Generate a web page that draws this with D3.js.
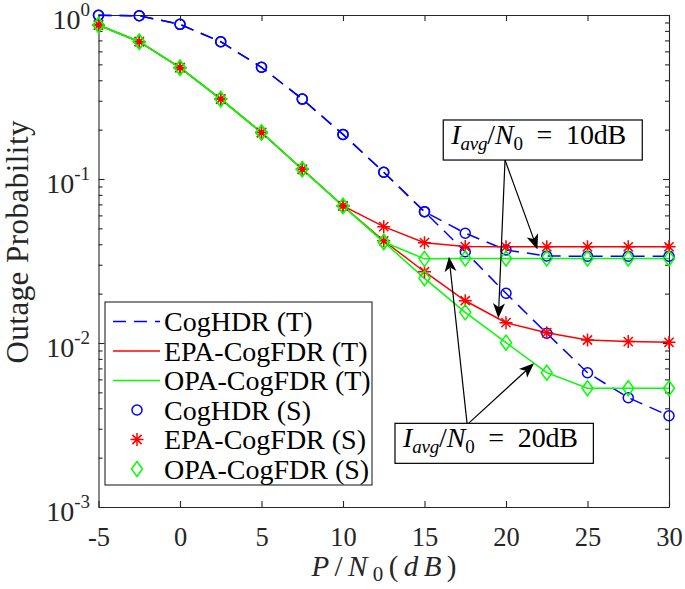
<!DOCTYPE html>
<html><head><meta charset="utf-8">
<script src="https://cdn.jsdelivr.net/npm/d3@7"></script>
<style>
body{margin:0;background:#fff;}
svg{display:block;font-family:"Liberation Serif","Times New Roman",serif;}
</style></head>
<body><svg id="c" width="685" height="589"></svg>
<script>
// ---- data ----
const snr = [-5, -2.5, 0, 2.5, 5, 7.5, 10, 12.5, 15, 17.5, 20, 22.5, 25, 27.5, 30];
const cogHDR_10 = [0.995, 0.99, 0.877, 0.687, 0.48, 0.307, 0.187, 0.110, 0.0632, 0.0467, 0.0369, 0.0339, 0.0338, 0.0338, 0.0338];
const cogHDR_20 = [0.995, 0.99, 0.877, 0.687, 0.48, 0.307, 0.187, 0.110, 0.0632, 0.0360, 0.0201, 0.01146, 0.00659, 0.00464, 0.0036];
const epa_10 = [0.869, 0.687, 0.477, 0.307, 0.192, 0.1146, 0.0685, 0.0512, 0.0409, 0.0387, 0.0386, 0.0386, 0.0386, 0.0386, 0.0386];
const epa_20 = [0.869, 0.687, 0.477, 0.307, 0.192, 0.1146, 0.0685, 0.0420, 0.0272, 0.0181, 0.0133, 0.01156, 0.01043, 0.0102, 0.0101];
const opa_10 = [0.869, 0.687, 0.477, 0.307, 0.192, 0.1146, 0.0685, 0.0413, 0.0326, 0.0328, 0.0328, 0.0328, 0.0328, 0.0328, 0.0328];
const opa_20 = [0.869, 0.687, 0.477, 0.307, 0.192, 0.1146, 0.0685, 0.0413, 0.0248, 0.01538, 0.01005, 0.00659, 0.0053, 0.0053, 0.0053];
const xTicks = [-5, 0, 5, 10, 15, 20, 25, 30];
const yTicks = [1e-3, 1e-2, 1e-1, 1];
const yExp = ["-3", "-2", "-1", "0"];
const legendLabels = ["CogHDR (T)", "EPA-CogFDR (T)", "OPA-CogFDR (T)", "CogHDR (S)", "EPA-CogFDR (S)", "OPA-CogFDR (S)"];
// annotation boxes/arrows in data coordinates
const boxes = [
  {label: "10dB", x0: 16.15, x1: 28.36, yTop: 0.229, yBot: 0.1305},
  {label: "20dB", x0: 13.19, x1: 25.36, yTop: 0.003237, yBot: 0.001846}
];
const arrows = [
  {from: [19.94, 0.1305], to: [21.93, 0.0372]},
  {from: [19.94, 0.1305], to: [19.53, 0.01415]},
  {from: [17.61, 0.003237], to: [16.50, 0.0336]},
  {from: [17.70, 0.003237], to: [21.72, 0.00752]}
];

// ---- layout ----
const L = 98.5, R = 669, T = 15, B = 507;
const x = d3.scaleLinear([-5, 30], [L, R]);
const y = d3.scaleLog([1e-3, 1], [B, T]);
const svg = d3.select("#c");
const axisColor = "#262626";
const SW = 1.5;

const BLUE = "#0000ff", RED = "#ff0000", GREEN = "#00ff00";

// minor ticks
const minor = [];
[1e-3, 1e-2, 1e-1].forEach(d => { for (let k = 2; k <= 9; k++) minor.push(d * k); });

function styleAxis(g) {
  g.selectAll("path,line").attr("stroke", axisColor).attr("stroke-width", 1.1);
  g.selectAll("text").attr("fill", axisColor);
}

// bottom axis
svg.append("g").attr("transform", `translate(0,${B})`)
  .call(d3.axisBottom(x).tickValues(xTicks).tickSizeInner(-6).tickSizeOuter(0).tickPadding(20).tickFormat(d3.format("d")))
  .call(g => g.attr("font-family", null).attr("font-size", null))
  .call(g => g.selectAll("text").attr("font-size", 26.5).text(d => d < 0 ? "-" + (-d) : d))
  .call(styleAxis);
// top axis
svg.append("g").attr("transform", `translate(0,${T})`)
  .call(d3.axisTop(x).tickValues(xTicks).tickSizeInner(-6).tickSizeOuter(0).tickFormat(""))
  .call(styleAxis);
// left axis
svg.append("g").attr("transform", `translate(${L},0)`)
  .call(d3.axisLeft(y).tickValues(yTicks).tickSizeInner(-6).tickSizeOuter(0).tickFormat(""))
  .call(styleAxis);
svg.append("g").attr("transform", `translate(${L},0)`)
  .call(d3.axisLeft(y).tickValues(minor).tickSizeInner(-4).tickSizeOuter(0).tickFormat(""))
  .call(g => g.select(".domain").remove())
  .call(styleAxis);
// right axis
svg.append("g").attr("transform", `translate(${R},0)`)
  .call(d3.axisRight(y).tickValues(yTicks).tickSizeInner(-6).tickSizeOuter(0).tickFormat(""))
  .call(styleAxis);
svg.append("g").attr("transform", `translate(${R},0)`)
  .call(d3.axisRight(y).tickValues(minor).tickSizeInner(-4).tickSizeOuter(0).tickFormat(""))
  .call(g => g.select(".domain").remove())
  .call(styleAxis);

// y tick labels with superscripts
yTicks.forEach((v, i) => {
  const t = svg.append("text").attr("x", 90).attr("y", y(v) + 14)
    .attr("text-anchor", "end").attr("font-size", 28).attr("fill", axisColor);
  t.append("tspan").text("10");
  t.append("tspan").attr("font-size", 19).attr("dy", -13).text(yExp[i]);
});

// axis labels
svg.append("text").attr("transform", "translate(28,242) rotate(-90)")
  .attr("text-anchor", "middle").attr("font-size", 31).attr("fill", axisColor)
  .attr("textLength", 243).attr("lengthAdjust", "spacing")
  .text("Outage Probability");
{
  const t = svg.append("text").attr("x", 384).attr("y", 576).attr("text-anchor", "middle")
    .attr("font-size", 29).attr("fill", axisColor).attr("textLength", 145).attr("lengthAdjust", "spacing");
  t.append("tspan").attr("font-style", "italic").text("P");
  t.append("tspan").text("/");
  t.append("tspan").attr("font-style", "italic").text("N");
  t.append("tspan").attr("font-size", 21).attr("dy", 5).text("0");
  t.append("tspan").attr("dy", -5).text("(");
  t.append("tspan").attr("font-style", "italic").text("dB");
  t.append("tspan").text(")");
}

// ---- lines ----
const line = d3.line().x((d, i) => x(snr[i])).y(d => y(d));
const plot = svg.append("g");
function drawLine(vals, color, dashed) {
  plot.append("path").attr("d", line(vals)).attr("fill", "none").attr("stroke", color)
    .attr("stroke-width", SW).attr("stroke-dasharray", dashed ? "13,8" : null);
}
drawLine(cogHDR_10, BLUE, true);
drawLine(cogHDR_20, BLUE, true);
drawLine(epa_10, RED, false);
drawLine(epa_20, RED, false);
drawLine(opa_10, GREEN, false);
drawLine(opa_20, GREEN, false);

// ---- markers ----
function circle(g, cx, cy) {
  g.append("circle").attr("cx", cx).attr("cy", cy).attr("r", 5).attr("fill", "none").attr("stroke", BLUE).attr("stroke-width", SW);
}
function star(g, cx, cy) {
  const r = 6.5, r2 = 4.6;
  g.append("path").attr("d",
    `M${cx - r},${cy}L${cx + r},${cy}M${cx},${cy - r}L${cx},${cy + r}` +
    `M${cx - r2},${cy - r2}L${cx + r2},${cy + r2}M${cx - r2},${cy + r2}L${cx + r2},${cy - r2}`)
    .attr("stroke", RED).attr("stroke-width", SW).attr("fill", "none");
}
function diamond(g, cx, cy) {
  const w = 5.5, h = 7.5;
  g.append("path").attr("d", `M${cx},${cy - h}L${cx + w},${cy}L${cx},${cy + h}L${cx - w},${cy}Z`)
    .attr("stroke", GREEN).attr("stroke-width", SW).attr("fill", "none");
}
const mk = svg.append("g");
[cogHDR_10, cogHDR_20].forEach(arr => arr.forEach((v, i) => circle(mk, x(snr[i]), y(v))));
[epa_10, epa_20].forEach(arr => arr.forEach((v, i) => star(mk, x(snr[i]), y(v))));
[opa_10, opa_20].forEach(arr => arr.forEach((v, i) => diamond(mk, x(snr[i]), y(v))));

// ---- legend ----
const lg = svg.append("g");
lg.append("rect").attr("x", 105).attr("y", 302).attr("width", 267).attr("height", 183)
  .attr("fill", "#fff").attr("stroke", axisColor).attr("stroke-width", 1.1);
const rowY = i => 321.5 + i * 29.5;
const legendStyles = [
  {type: "line", color: BLUE, dash: true}, {type: "line", color: RED}, {type: "line", color: GREEN},
  {type: "circle"}, {type: "star"}, {type: "diamond"}
];
legendStyles.forEach((s, i) => {
  const cy = rowY(i);
  if (s.type === "line") {
    lg.append("line").attr("x1", 113).attr("x2", 160).attr("y1", cy).attr("y2", cy)
      .attr("stroke", s.color).attr("stroke-width", SW).attr("stroke-dasharray", s.dash ? "13,8" : null);
  } else if (s.type === "circle") circle(lg, 137, cy);
  else if (s.type === "star") star(lg, 137, cy);
  else diamond(lg, 137, cy);
  lg.append("text").attr("x", 164).attr("y", cy + 9.5).attr("font-size", 28).attr("fill", "#000").text(legendLabels[i]);
});

// ---- annotations ----
const an = svg.append("g");
arrows.forEach(a => {
  const x1 = x(a.from[0]), y1 = y(a.from[1]), x2 = x(a.to[0]), y2 = y(a.to[1]);
  const ang = Math.atan2(y2 - y1, x2 - x1);
  const len = 15, hw = 6, back = 11;
  const ux = Math.cos(ang), uy = Math.sin(ang), px = -uy, py = ux;
  const bx = x2 - ux * len, by = y2 - uy * len;
  const nx = x2 - ux * back, ny = y2 - uy * back;
  an.append("line").attr("x1", x1).attr("y1", y1).attr("x2", nx).attr("y2", ny).attr("stroke", "#000").attr("stroke-width", 1.2);
  an.append("path").attr("d", `M${x2},${y2}L${bx + px * hw},${by + py * hw}L${nx},${ny}L${bx - px * hw},${by - py * hw}Z`).attr("fill", "#000");
});
boxes.forEach(b => {
  const bx = x(b.x0), by = y(b.yTop), bw = x(b.x1) - x(b.x0), bh = y(b.yBot) - y(b.yTop);
  an.append("rect").attr("x", bx).attr("y", by).attr("width", bw).attr("height", bh)
    .attr("fill", "#fff").attr("stroke", "#000").attr("stroke-width", 1.2);
  const t = an.append("text").attr("x", bx + 8).attr("y", by + 24).attr("font-size", 28).attr("fill", "#000")
    .attr("textLength", 175).attr("lengthAdjust", "spacing");
  t.append("tspan").attr("font-style", "italic").text("I");
  t.append("tspan").attr("font-style", "italic").attr("font-size", 19).attr("dy", 6).text("avg");
  t.append("tspan").attr("dy", -6).text("/");
  t.append("tspan").attr("font-style", "italic").text("N");
  t.append("tspan").attr("font-size", 19).attr("dy", 6).text("0");
  t.append("tspan").attr("dy", -6).text("\u2002=\u2002" + b.label);
});
</script></body></html>
